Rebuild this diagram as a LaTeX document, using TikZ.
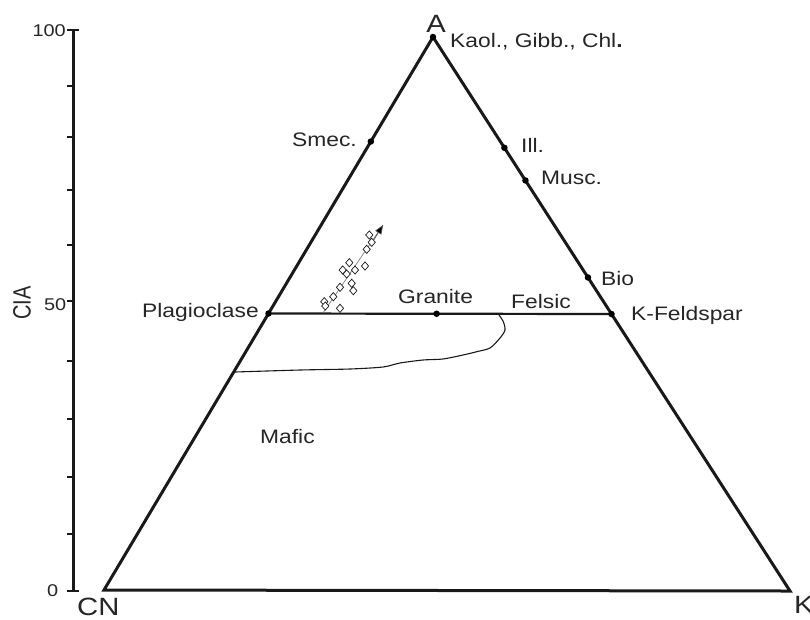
\documentclass[tikz,border=0pt]{standalone}
\usepackage{fontspec}
\setmainfont{Liberation Sans}
\newfontfamily\labfont[FakeStretch=1.17]{Liberation Sans}
\newfontfamily\ciafont[FakeStretch=0.8]{Liberation Sans}
\usetikzlibrary{shapes.geometric,arrows.meta,calc}
\begin{document}
\begin{tikzpicture}[x=1pt,y=-1pt,
  edge/.style={line width=3pt, draw=black!90},
  axisline/.style={line width=3pt, draw=black!90},
  tickline/.style={line width=2.2pt, draw=black!90},
  midline/.style={line width=2.2pt, draw=black!90},
  bound/.style={line width=1.1pt, draw=black!90},
  trend/.style={line width=0.7pt, draw=gray},
  dotmark/.style={circle, fill=black, inner sep=0pt, minimum size=6.5pt},
  dia/.style={diamond, draw=black!90, fill=white, line width=0.7pt, inner sep=0pt, minimum width=7.5pt, minimum height=8.5pt},
  lab/.style={font=\labfont\fontsize{19.5}{21}\selectfont, inner sep=0pt, text=black!85},
  num/.style={font=\labfont\fontsize{17}{18}\selectfont, inner sep=0pt, text=black!85},
  corner/.style={font=\labfont\fontsize{25}{26}\selectfont, inner sep=0pt, text=black!85}
]
\useasboundingbox (0,0) rectangle (810,619);
\fill[white] (0,0) rectangle (810,619);

% triangle
\coordinate (A) at (433,37);
\coordinate (CN) at (104,590);
\coordinate (K) at (790,591);
\draw[edge] (A) -- (CN) -- (K) -- cycle;

% axis
\coordinate (ax0) at (73,591);
\coordinate (ax100) at (73,30);
\draw[axisline] (ax0) -- (ax100);
\foreach \y in {86,137,190,245,301,361,419,477,534}
  \draw[tickline] (73,\y) -- (67,\y);
\draw[tickline] (67,30) -- (79,30);
\draw[tickline] (67,591) -- (79,591);
\node[num, anchor=base east] (n100) at (66,36.7) {100};
\node[num, anchor=base east] (n50) at (66.5,310) {50};
\node[num, anchor=base east] (n0) at (58.5,596) {0};
\node[rotate=90, font=\ciafont\fontsize{25}{25}\selectfont, inner sep=0pt, text=black!85] (cia) at (22,303) {CIA};

% points on edges
\coordinate (Pl) at ($(A)!0.5!(CN)$);
\coordinate (KF) at ($(A)!0.5!(K)$);
\coordinate (Gr) at ($(Pl)!0.49!(KF)$);
\coordinate (Sm) at ($(A)!0.189!(CN)$);
\coordinate (Il) at ($(A)!0.2!(K)$);
\coordinate (Mu) at ($(A)!0.259!(K)$);
\coordinate (Bi) at ($(A)!0.434!(K)$);

\draw[midline] (Pl) -- (KF);

% mafic/felsic boundary
\draw[bound] plot[smooth, tension=0.45] coordinates {(499,315) (503.3,321.7) (505,330) (500,338) (490,348) (476.7,351.7) (463,355) (443,359) (423,360) (400,363) (383,367) (350,369) (300,370) (235,372)};

\foreach \p in {A,Pl,KF,Gr,Sm,Il,Mu,Bi}
  \node[dotmark] at (\p) {};

% trend with samples
\coordinate (t0) at (323,313);
\coordinate (t1) at (383,225);
\draw[trend] (t0) -- (t1);
\foreach \x/\y [count=\i] in {324.3/301.7, 325.3/306, 333.3/296.7, 340/287.3, 340/308.3, 342.7/270, 346.7/274, 349.3/262.7, 351.7/283.3, 353.3/290.7, 355/270, 365/266, 366.7/249.3, 371.7/242.3, 369.3/235}
  \node[dia] (d\i) at (\x,\y) {};
\draw[trend, draw=black!70, -{Triangle[length=9pt,width=7pt,fill=black]}] (d14.north east) -- (t1);

% labels
\node[corner, anchor=base] (lA) at (436,32) {A};
\node[corner, anchor=base west] (lCN) at (77,615) {CN};
\node[corner, anchor=base west] (lK) at (794,613) {K};
\node[lab, anchor=base west] (lKa) at (450,47) {Kaol., Gibb., Chl\textbf{.}};
\node[lab, anchor=base east] (lSm) at (357,146) {Smec.};
\node[lab, anchor=base west] (lIl) at (521,152) {Ill.};
\node[lab, anchor=base west] (lMu) at (541,184) {Musc.};
\node[lab, anchor=base west] (lBi) at (601,285) {Bio};
\node[lab, anchor=base west] (lKF) at (631,320) {K-Feldspar};
\node[lab, anchor=base east] (lPl) at (259,317) {Plagioclase};
\node[lab, anchor=base west] (lGr) at (398,303) {Granite};
\node[lab, anchor=base west] (lFe) at (511,308) {Felsic};
\node[lab, anchor=base west] (lMa) at (260,443) {Mafic};
\end{tikzpicture}
\end{document}
